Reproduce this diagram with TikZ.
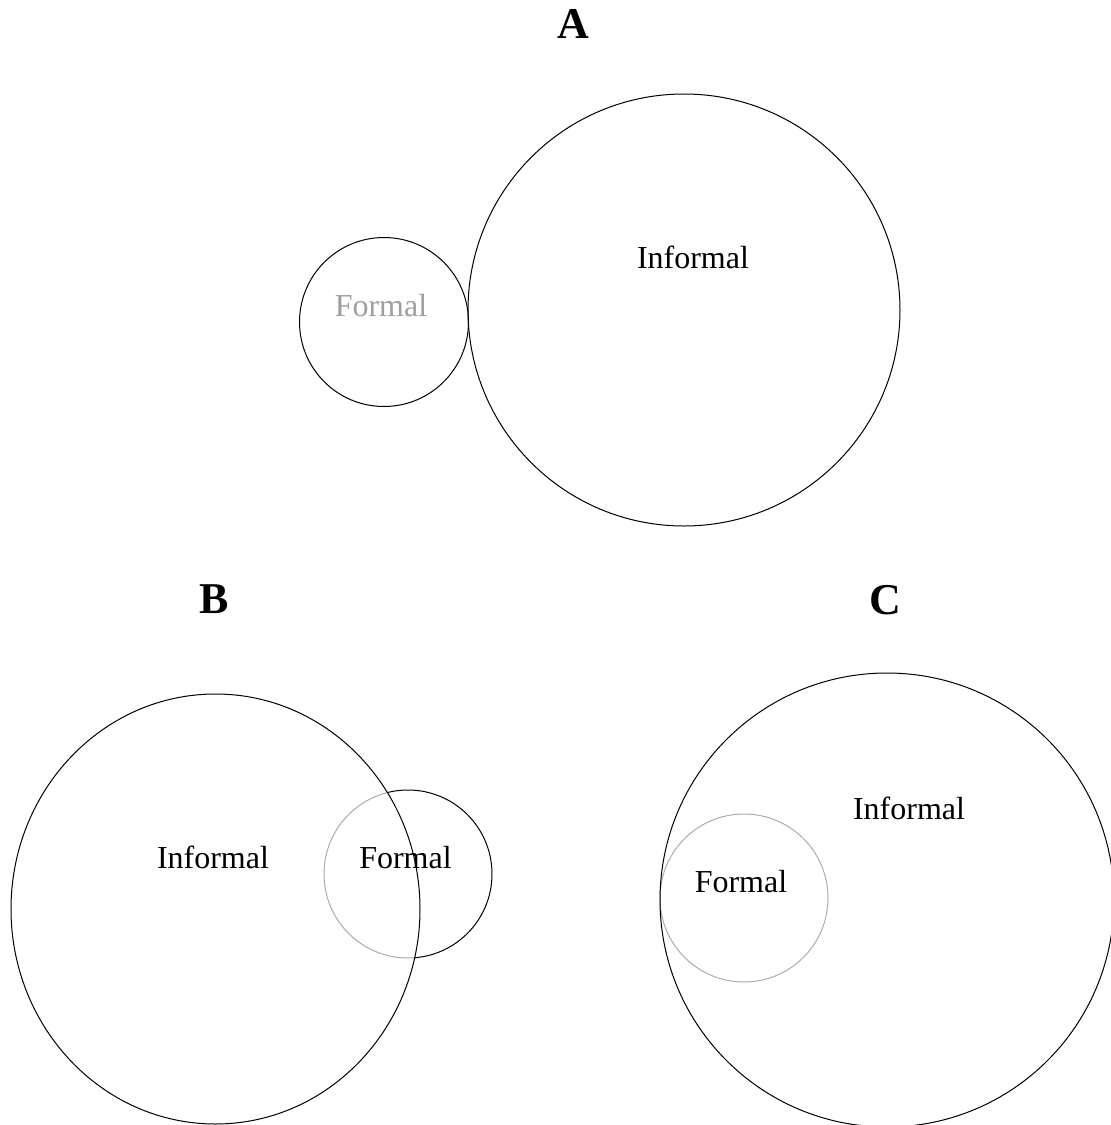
\documentclass[tikz,border=0pt]{standalone}
\usepackage{fontspec}
\setmainfont{Liberation Serif}

\begin{document}
\begin{tikzpicture}[
  x=0.5pt, y=-0.5pt,
  ring/.style={
    draw=black,
    line width=0.5pt
  },
  faintring/.style={
    draw=gray!65,
    line width=0.5pt
  },
  paneltitle/.style={
    font=\fontsize{22}{26}\selectfont\bfseries,
    anchor=base
  },
  word/.style={
    font=\fontsize{16}{19}\selectfont,
    anchor=base
  }
]
\useasboundingbox (0,0) rectangle (1111,1125);

% Panel A - formal and informal just touching
\node[paneltitle] (titleA) at (573,38) {A};
\draw[ring] (384,322) circle [radius=84.5];
\draw[ring] (684,310) circle [radius=216];
\node[word, text=gray!75] (formalA) at (381,316) {Formal};
\node[word] (informalA) at (693,268) {Informal};

% Panel B - overlapping
\node[paneltitle] (titleB) at (214,613) {B};
\draw[ring] (408,874) circle [radius=84];
\begin{scope}
  \clip (215.5,909) ellipse [x radius=204.5, y radius=215];
  \draw[draw=white, line width=1.5pt] (408,874) circle [radius=84];
  \draw[faintring] (408,874) circle [radius=84];
\end{scope}
\draw[ring] (215.5,909) ellipse [x radius=204.5, y radius=215];
\node[word] (informalB) at (213,868) {Informal};
\node[word] (formalB) at (405.5,868) {Formal};

% Panel C - formal inside informal
\node[paneltitle] (titleC) at (885,614) {C};
\draw[faintring] (744,898) circle [radius=84];
\draw[ring] (887,900) circle [radius=227];
\node[word] (formalC) at (741,892) {Formal};
\node[word] (informalC) at (909,819) {Informal};
\end{tikzpicture}
\end{document}
